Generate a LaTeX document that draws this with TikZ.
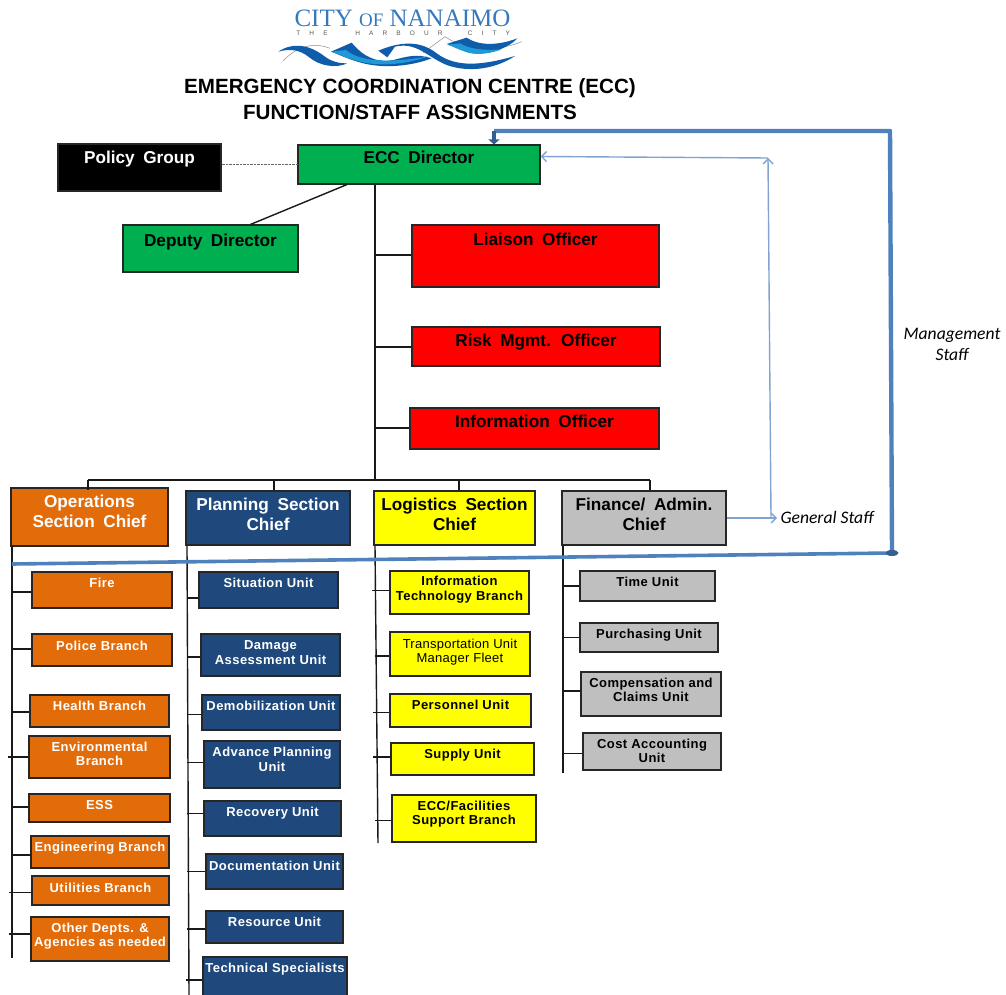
\documentclass[tikz,border=0pt]{standalone}
\usepackage{fontspec}
\setmainfont{Liberation Sans}
\newfontfamily\logofont{Liberation Serif}
\newfontfamily\staffont{Carlito}
\newfontfamily\chieffont[WordSpace=1.8]{Liberation Sans}
\usetikzlibrary{arrows.meta}
\definecolor{opsc}{HTML}{E36C0A}
\definecolor{planc}{HTML}{1F497D}
\definecolor{finc}{HTML}{BFBFBF}
\definecolor{greenc}{HTML}{00B050}
\definecolor{yellowc}{HTML}{FFFF00}
\definecolor{redc}{HTML}{FF0000}
\definecolor{thickc}{HTML}{4F81BD}
\definecolor{thinc}{HTML}{7FA3D3}
\definecolor{darkc}{HTML}{365F91}
\definecolor{logoc}{HTML}{3579BC}
\definecolor{waved}{HTML}{0F5CAB}
\definecolor{wavel}{HTML}{1F9AD6}
\newcommand{\lift}[2]{\smash{\raisebox{#1pt}{\raisebox{-0.4em}{\begin{tabular}{@{}c@{}}#2\end{tabular}}}}}
\begin{document}
\begin{tikzpicture}[x=1pt,y=-1pt,
  wh/.style 2 args={minimum width=#1,minimum height=#2},
  box/.style={draw=black!85,line width=1.1pt,inner sep=0pt},
  big/.style={box,font=\chieffont\bfseries\fontsize{17.2}{20}\selectfont},
  unit/.style={box,font=\bfseries\fontsize{13}{14.5}\selectfont\addfontfeature{LetterSpace=3.5}},
  ops/.style={fill=opsc,text=white},
  plan/.style={fill=planc,text=white},
  logi/.style={fill=yellowc},
  fin/.style={fill=finc},
  red box/.style={big,fill=redc},
  conn/.style={black!90,line width=1.4pt},
  thin blue/.style={thinc,line width=1.4pt,-{Straight Barb[length=5pt,width=10pt]}},
  thick blue/.style={thickc,line width=4.4pt},
  tagline/.style={text=black!65,font=\fontsize{6.5}{6.5}\selectfont\addfontfeature{LetterSpace=140}},
  staff/.style={font=\staffont\itshape\fontsize{17.6}{21}\selectfont,align=center}]
  \useasboundingbox (0,0) rectangle (1006,995);
  % logo
  \node (logoname) [text=logoc,font=\logofont\fontsize{25}{25}\selectfont] at (402.5,18) {CITY {\fontsize{19}{19}\selectfont OF} NANAIMO};
  \node (logothe) [tagline] at (312,33) {THE};
  \node (logoharbour) [tagline] at (399,33) {HARBOUR};
  \node (logocity) [tagline] at (489,33) {CITY};
  \begin{scope}[shift={(270,0)},x=0.3333pt,y=-0.3333pt]
    \draw[black!45,line width=0.5pt] (40,182) .. controls (80,140) and (130,125) .. (180,145);
    \draw[black!45,line width=0.5pt] (460,158) -- (525,110) -- (545,122) .. controls (620,150) and (700,150) .. (755,125);
    \fill[waved] (25,155) .. controls (70,125) and (120,135) .. (165,170) .. controls (185,185) and (205,190) .. (232,190) .. controls (200,205) and (150,200) .. (115,170) .. controls (90,150) and (60,145) .. (25,155) -- cycle;
    \fill[waved] (183,155) -- (245,128) .. controls (280,170) and (320,190) .. (370,180) .. controls (410,170) and (440,160) .. (485,175) .. controls (420,200) and (340,205) .. (280,190) .. controls (240,180) and (210,165) .. (183,155) -- cycle;
    \fill[wavel] (185,155) -- (228,150) .. controls (270,185) and (350,190) .. (472,170) .. controls (400,195) and (330,198) .. (280,187) .. controls (240,178) and (210,165) .. (185,155) -- cycle;
    \fill[waved] (325,152) .. controls (390,125) and (450,120) .. (500,160) .. controls (560,205) and (640,195) .. (735,168) .. controls (680,205) and (600,220) .. (530,195) .. controls (470,170) and (440,125) .. (375,140) -- (352,172) -- cycle;
    \fill[waved] (530,132) -- (590,113) .. controls (630,140) and (690,135) .. (742,115) .. controls (710,150) and (640,170) .. (590,155) .. controls (565,148) and (550,138) .. (530,132) -- cycle;
    \fill[wavel] (532,134) -- (570,130) .. controls (600,148) and (640,152) .. (695,148) .. controls (650,165) and (610,165) .. (585,155) .. controls (565,148) and (550,140) .. (532,134) -- cycle;
  \end{scope}
  % title
  \node (title) [align=center,font=\bfseries\fontsize{20.6}{26}\selectfont] at (410,99) {EMERGENCY COORDINATION CENTRE (ECC)\\FUNCTION/STAFF ASSIGNMENTS};
  % management
  \node (policy) [big,fill=black,text=white,wh={163}{47}] at (139.5,167.5) {\lift{10.5}{Policy Group}};
  \node (dir) [big,fill=greenc,wh={242}{39}] at (419,164.5) {\lift{7.5}{ECC Director}};
  \node (deputy) [big,fill=greenc,wh={175}{47}] at (210.5,248.5) {\lift{8.5}{Deputy Director}};
  \node (liaison) [red box,wh={247}{62}] at (535.5,256) {\lift{17}{Liaison Officer}};
  \node (risk) [red box,wh={248}{39}] at (536,346.5) {\lift{6.5}{Risk Mgmt. Officer}};
  \node (info) [red box,wh={249}{41}] at (534.5,428.5) {\lift{7.5}{Information Officer}};
  % section chiefs
  \node (opschief) [big,ops,wh={157}{58}] at (89.5,517) {\lift{6}{Operations\\Section Chief}};
  \node (planchief) [big,plan,wh={164}{54}] at (268,518) {\lift{4}{Planning Section\\Chief}};
  \node (logichief) [big,logi,wh={161}{54}] at (454.5,518) {\lift{4}{Logistics Section\\Chief}};
  \node (finchief) [big,fin,wh={164}{54}] at (644,518) {\lift{4}{Finance/ Admin.\\Chief}};
  % operations
  \node (fire) [unit,ops,wh={140}{36}] at (102,590) {\lift{8}{Fire}};
  \node (police) [unit,ops,wh={140}{32}] at (102,650) {\lift{5}{Police Branch}};
  \node (health) [unit,ops,wh={139}{32}] at (99.5,711) {\lift{6}{Health Branch}};
  \node (environ) [unit,ops,wh={141}{42}] at (99.5,757) {\lift{3.5}{Environmental\\Branch}};
  \node (ess) [unit,ops,wh={141}{28}] at (99.5,808) {\lift{4}{ESS}};
  \node (engineer) [unit,ops,wh={138}{32}] at (100,852) {\lift{6}{Engineering Branch}};
  \node (utilities) [unit,ops,wh={137}{29}] at (100.5,890.5) {\lift{3.5}{Utilities Branch}};
  \node (other) [unit,ops,wh={138}{44}] at (100,939) {\lift{4.5}{Other Depts. \&\\Agencies as needed}};
  % planning
  \node (situation) [unit,plan,wh={139}{36}] at (268.5,590) {\lift{8}{Situation Unit}};
  \node (damage) [unit,plan,wh={139}{42}] at (270.5,655) {\lift{3}{Damage\\Assessment Unit}};
  \node (demob) [unit,plan,wh={138}{35}] at (271,712.5) {\lift{7.5}{Demobilization Unit}};
  \node (advance) [unit,plan,wh={136}{47}] at (272,764.5) {\lift{5.5}{Advance Planning\\Unit}};
  \node (recovery) [unit,plan,wh={137}{35}] at (272.5,818.5) {\lift{7.5}{Recovery Unit}};
  \node (document) [unit,plan,wh={137}{35}] at (274.5,871.5) {\lift{6.5}{Documentation Unit}};
  \node (resource) [unit,plan,wh={137}{32}] at (274.5,927) {\lift{6}{Resource Unit}};
  \node (technical) [unit,plan,wh={144}{42}] at (275,978) {\lift{11}{Technical Specialists}};
  % logistics
  \node (infotech) [unit,logi,wh={139}{43}] at (459.5,592.5) {\lift{4.5}{Information\\Technology Branch}};
  \node (transport) [unit,logi,wh={140}{44},font=\fontsize{13}{14.5}\selectfont\addfontfeature{LetterSpace=2}] at (460,654) {\lift{3.5}{Transportation Unit\\Manager Fleet}};
  \node (personnel) [unit,logi,wh={141}{33}] at (460.5,710.5) {\lift{6.5}{Personnel Unit}};
  \node (supply) [unit,logi,wh={143}{32}] at (462.5,759) {\lift{6}{Supply Unit}};
  \node (facilities) [unit,logi,wh={144}{47}] at (464,818.5) {\lift{6}{ECC/Facilities\\Support Branch}};
  % finance
  \node (time) [unit,fin,wh={135}{30}] at (647.5,586) {\lift{5}{Time Unit}};
  \node (purchase) [unit,fin,wh={138}{29}] at (649,637.5) {\lift{4.5}{Purchasing Unit}};
  \node (compen) [unit,fin,wh={140}{44}] at (651,694) {\lift{4.5}{Compensation and\\Claims Unit}};
  \node (cost) [unit,fin,wh={138}{37}] at (652,751.5) {\lift{1}{Cost Accounting\\Unit}};
  % connectors
  \coordinate (bus) at (375,480);
  \coordinate (opsbar) at (12,546);
  \coordinate (opsend) at (12,958);
  \coordinate (planbar) at (187,546);
  \coordinate (planend) at (189,995);
  \coordinate (logibar) at (375,546);
  \coordinate (logiend) at (378,843);
  \coordinate (finbar) at (563,546);
  \coordinate (finend) at (563,773);
  \draw[densely dotted,black!60] (policy.east |- dir.west) -- (dir.west);
  \draw[conn] ([xshift=-72pt]dir.south) -- ([xshift=40pt]deputy.north);
  \draw[conn] (dir.south -| bus) -- (bus);
  \draw[conn] (88,480) -- (650,480);
  \foreach \n/\x in {opschief/88,planchief/274,logichief/459,finchief/650}
    \draw[conn] (\x,480) -- (\x,490);
  \foreach \n/\y in {liaison/255,risk/347,info/428}
    \draw[conn] (\n.west |- 0,\y) -- (bus |- 0,\y);
  \draw[conn] (opsbar) -- (opsend);
  \draw[conn] (planbar) -- (planend);
  \draw[conn] (logibar) -- (logiend);
  \draw[conn] (finbar) -- (finend);
  \foreach \n/\b/\d/\o in {fire/opsbar/-2/0,police/opsbar/1/0,health/opsbar/-1/0,environ/opsbar/0/4,ess/opsbar/1/0,engineer/opsbar/-3/0,utilities/opsbar/-2/3,other/opsbar/5/3,
    situation/planbar/-8/-2,damage/planbar/-2/0,demob/planbar/-2/0,advance/planbar/2/0,recovery/planbar/5/0,document/planbar/0/0,resource/planbar/-2/0,technical/planbar/-2/1,
    infotech/logibar/2/3,transport/logibar/-2/-1,personnel/logibar/-2/2,supply/logibar/2/2,facilities/logibar/-2/0,
    time/finbar/0/0,purchase/finbar/0/0,compen/finbar/3/-1,cost/finbar/-2/-5}{
    \coordinate (\n stub) at ([yshift=\d pt]\n.west);
    \draw[conn] (\n stub) -- (\n stub -| \b) -- ++(-\o,0);
  }
  % staff arrows
  \coordinate (mgmttop) at (494,131);
  \coordinate (mgmtright) at (890,131);
  \coordinate (mgmtdot) at (892,553);
  \coordinate (mgmtleft) at (12,564);
  \coordinate (gentop) at (768,158);
  \coordinate (gencorner) at (771,517);
  \draw[thick blue,line join=round] (mgmttop) -- (mgmtright) -- (mgmtdot);
  \draw[thick blue,line width=3.6pt] (mgmtdot) -- (mgmtleft);
  \fill[darkc] (mgmtdot) ellipse (6.5 and 3);
  \draw[darkc,line width=4pt,-{Triangle[length=5pt,width=11pt]}] (mgmttop) -- (mgmttop |- dir.north);
  \draw[thin blue] (gentop) -- ([yshift=8pt]dir.east);
  \draw[thin blue] (gencorner) -- (gentop);
  \draw[thin blue] (finchief.east) -- (777,518);
  \node (general) [staff] at (827,517) {General Staff};
  \node (mgmt) [staff] at (952,344) {Management\\Staff};
\end{tikzpicture}
\end{document}
